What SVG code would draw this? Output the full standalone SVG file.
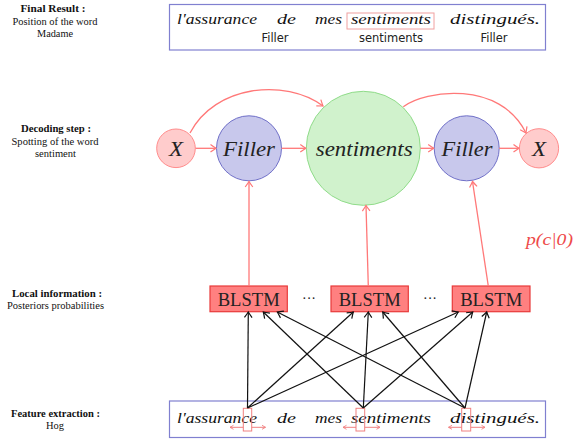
<svg xmlns="http://www.w3.org/2000/svg" width="574" height="439" viewBox="0 0 574 439">
<style>
.lbl{font-size:10.5px;fill:#111;text-anchor:middle}
.lblb{font-weight:bold}
.sans{font-family:"DejaVu Sans",sans-serif;font-size:11.5px;fill:#222;text-anchor:middle}
.hw{font-style:italic;font-size:14px;fill:#111}
.math{font-style:italic;font-size:21px;fill:#222;text-anchor:middle}
.box{fill:#fff;stroke:#8080d0;stroke-width:1.2}
.cx{fill:#ffcccc;stroke:#ff8c8c;stroke-width:1}
.cf{fill:#c8c8ec;stroke:#7070c8;stroke-width:1}
.cs{fill:#d0f2cc;stroke:#90dc8a;stroke-width:1}
.bl{fill:#ff8080;stroke:#e83a3a;stroke-width:1.2}
.blt{font-size:18.5px;fill:#222;text-anchor:middle}
.pc{font-style:italic;font-size:17px;fill:#ee4a4a}
.red{fill:none;stroke:#ff7878;stroke-width:1.3}
.blk{fill:none;stroke:#111;stroke-width:1.2}
.pr{fill:none;stroke:#f08080;stroke-width:1}
</style>
<defs>
<marker id="ar" markerUnits="userSpaceOnUse" markerWidth="12" markerHeight="12" refX="0" refY="0" orient="auto" overflow="visible">
<path d="M-5.5,-3.8 Q-1.5,-0.9 0,0 Q-1.5,0.9 -5.5,3.8" fill="none" stroke="#ff7878" stroke-width="1.2"/>
</marker>
<marker id="ak" markerUnits="userSpaceOnUse" markerWidth="12" markerHeight="12" refX="0" refY="0" orient="auto" overflow="visible">
<path d="M-5.5,-3.8 Q-1.5,-0.9 0,0 Q-1.5,0.9 -5.5,3.8" fill="none" stroke="#111" stroke-width="1.2"/>
</marker>
<marker id="ap" markerUnits="userSpaceOnUse" markerWidth="8" markerHeight="8" refX="0" refY="0" orient="auto" overflow="visible">
<path d="M-3.5,-2 L0,0 L-3.5,2" fill="none" stroke="#f08080" stroke-width="0.9"/>
</marker>
</defs>

<g id="labels" font-family="Liberation Serif, Times New Roman, DejaVu Serif, serif">
<text class="lbl lblb" x="53" y="12" textLength="65" lengthAdjust="spacingAndGlyphs">Final Result :</text>
<text class="lbl" x="55" y="24.5" textLength="85" lengthAdjust="spacingAndGlyphs">Position of the word</text>
<text class="lbl" x="55" y="36.5" textLength="36" lengthAdjust="spacingAndGlyphs">Madame</text>
<text class="lbl lblb" x="56" y="132" textLength="70" lengthAdjust="spacingAndGlyphs">Decoding step :</text>
<text class="lbl" x="55" y="145" textLength="87" lengthAdjust="spacingAndGlyphs">Spotting of the word</text>
<text class="lbl" x="55.5" y="157" textLength="41" lengthAdjust="spacingAndGlyphs">sentiment</text>
<text class="lbl lblb" x="57" y="297" textLength="90" lengthAdjust="spacingAndGlyphs">Local information :</text>
<text class="lbl" x="55.5" y="309" textLength="97" lengthAdjust="spacingAndGlyphs">Posteriors probabilities</text>
<text class="lbl lblb" x="55.5" y="417" textLength="89" lengthAdjust="spacingAndGlyphs">Feature extraction :</text>
<text class="lbl" x="55" y="429" textLength="18" lengthAdjust="spacingAndGlyphs">Hog</text>
</g>

<g id="final-result" font-family="Liberation Serif, DejaVu Serif, serif">
<rect class="box" x="169.5" y="4.5" width="376" height="45.5"/>
<text class="hw" x="177" y="24" textLength="80" lengthAdjust="spacingAndGlyphs">l'assurance</text>
<text class="hw" x="277" y="24" textLength="19" lengthAdjust="spacingAndGlyphs">de</text>
<text class="hw" x="315" y="24" textLength="27" lengthAdjust="spacingAndGlyphs">mes</text>
<text class="hw" x="351" y="24" textLength="80" lengthAdjust="spacingAndGlyphs">sentiments</text>
<text class="hw" x="450" y="24" textLength="90" lengthAdjust="spacingAndGlyphs">distingués.</text>
<rect x="347" y="13" width="87" height="16" fill="none" stroke="#f0a0a0" stroke-width="1"/>
<text class="sans" x="275" y="42">Filler</text>
<text class="sans" x="391" y="42">sentiments</text>
<text class="sans" x="494" y="42">Filler</text>
</g>

<g id="feature-extraction" font-family="Liberation Serif, DejaVu Serif, serif">
<rect class="box" x="169.5" y="401" width="376" height="36.5"/>
<text class="hw" x="177" y="423" textLength="80" lengthAdjust="spacingAndGlyphs">l'assurance</text>
<text class="hw" x="277" y="423" textLength="19" lengthAdjust="spacingAndGlyphs">de</text>
<text class="hw" x="315" y="423" textLength="27" lengthAdjust="spacingAndGlyphs">mes</text>
<text class="hw" x="351" y="423" textLength="80" lengthAdjust="spacingAndGlyphs">sentiments</text>
<text class="hw" x="450" y="423" textLength="90" lengthAdjust="spacingAndGlyphs">distingués.</text>
<rect x="243.3" y="408.3" width="8.4" height="22.7" fill="none" stroke="#f08080" stroke-width="1"/>
<rect x="356" y="408.3" width="8.7" height="22.7" fill="none" stroke="#f08080" stroke-width="1"/>
<rect x="461.7" y="408.3" width="9" height="22.7" fill="none" stroke="#f08080" stroke-width="1"/>
<path class="pr" d="M243.3,427.3 H230" marker-end="url(#ap)"/>
<path class="pr" d="M251.7,427.3 H265.5" marker-end="url(#ap)"/>
<path class="pr" d="M356,427.3 H343" marker-end="url(#ap)"/>
<path class="pr" d="M364.7,427.3 H380" marker-end="url(#ap)"/>
<path class="pr" d="M461.7,427.3 H448.5" marker-end="url(#ap)"/>
<path class="pr" d="M470.7,427.3 H485" marker-end="url(#ap)"/>
</g>

<g font-family="Liberation Serif, DejaVu Serif, serif">
<g id="node-x1"><circle class="cx" cx="176" cy="148.3" r="19.3"/><text class="math" x="176" y="155.5" textLength="14" lengthAdjust="spacingAndGlyphs">X</text></g>
<g id="node-filler1"><circle class="cf" cx="249" cy="148.3" r="32.5"/><text class="math" x="249" y="155.5" textLength="52" lengthAdjust="spacingAndGlyphs">Filler</text></g>
<g id="node-sentiments"><circle class="cs" cx="363.3" cy="148.3" r="57"/><text class="math" x="364.2" y="155.5" textLength="97" lengthAdjust="spacingAndGlyphs">sentiments</text></g>
<g id="node-filler2"><circle class="cf" cx="466.7" cy="148.3" r="32.5"/><text class="math" x="467" y="155.5" textLength="51" lengthAdjust="spacingAndGlyphs">Filler</text></g>
<g id="node-x2"><circle class="cx" cx="539" cy="148.3" r="19.6"/><text class="math" x="539" y="155.5" textLength="14" lengthAdjust="spacingAndGlyphs">X</text></g>

<g id="blstm1"><rect class="bl" x="210" y="286" width="77.3" height="25.7"/><text class="blt" x="248.7" y="306" textLength="62" lengthAdjust="spacingAndGlyphs">BLSTM</text></g>
<g id="blstm2"><rect class="bl" x="331" y="286" width="77.3" height="25.7"/><text class="blt" x="369.7" y="306" textLength="62" lengthAdjust="spacingAndGlyphs">BLSTM</text></g>
<g id="blstm3"><rect class="bl" x="452.3" y="286" width="77.7" height="25.7"/><text class="blt" x="491.2" y="306" textLength="62" lengthAdjust="spacingAndGlyphs">BLSTM</text></g>
<g id="dots">
<text class="blt" x="309" y="303" style="font-size:14px">···</text>
<text class="blt" x="430" y="303" style="font-size:14px">···</text>
</g>

<text class="pc" x="526" y="245" textLength="47" lengthAdjust="spacingAndGlyphs">p(c|0)</text>
</g>

<g id="connectors">
<path class="red" d="M195.5,148.3 H216" marker-end="url(#ar)"/>
<path class="red" d="M281.5,148.3 H305.8" marker-end="url(#ar)"/>
<path class="red" d="M420.3,148.3 H433.7" marker-end="url(#ar)"/>
<path class="red" d="M499.2,148.3 H519" marker-end="url(#ar)"/>
<path class="red" d="M190,133 C215,85 285,78 323,106" marker-end="url(#ar)"/>
<path class="red" d="M403.3,106.7 C425,90 500,80 526,133" marker-end="url(#ar)"/>
<path class="red" d="M249,286 V181.5" marker-end="url(#ar)"/>
<path class="red" d="M368.3,286 L366,205.5" marker-end="url(#ar)"/>
<path class="red" d="M488.3,286 L472.5,181.5" marker-end="url(#ar)"/>

<path class="blk" d="M247.5,408 L248.3,312" marker-end="url(#ak)"/>
<path class="blk" d="M247.5,408 L353.3,312" marker-end="url(#ak)"/>
<path class="blk" d="M247.5,408 L458.3,312" marker-end="url(#ak)"/>
<path class="blk" d="M363.3,408 L263.3,312" marker-end="url(#ak)"/>
<path class="blk" d="M363.3,408 L368.3,312" marker-end="url(#ak)"/>
<path class="blk" d="M363.3,408 L472.7,312" marker-end="url(#ak)"/>
<path class="blk" d="M465,408 L277.3,312" marker-end="url(#ak)"/>
<path class="blk" d="M465,408 L382.7,312" marker-end="url(#ak)"/>
<path class="blk" d="M465,408 L486.7,312" marker-end="url(#ak)"/>
</g>
</svg>
